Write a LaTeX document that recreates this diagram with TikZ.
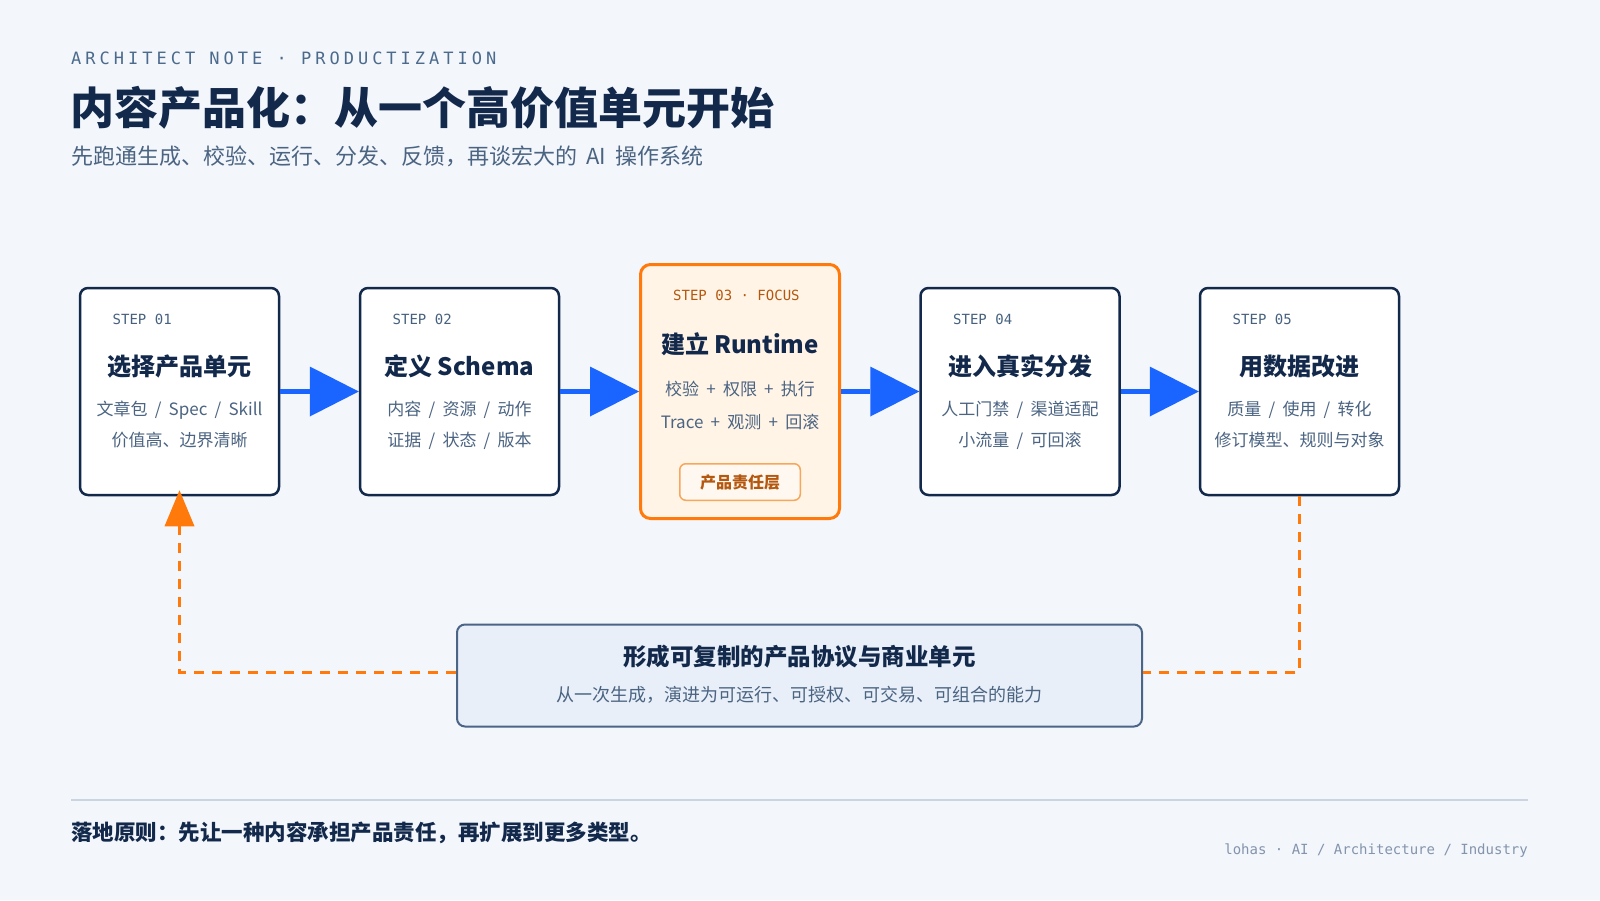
\documentclass[tikz,border=0pt]{standalone}
\usepackage{fontspec}
\setmainfont{Noto Sans CJK SC}[WordSpace=1.9]
\newfontfamily\titlef{Noto Sans CJK SC}[WordSpace=0.9]
\newfontfamily\monof{DejaVu Sans Mono}
\newfontfamily\monosp{DejaVu Sans Mono}[LetterSpace=23.5]
\usetikzlibrary{arrows.meta}
\definecolor{bg}{HTML}{F3F6FB}
\definecolor{navy}{HTML}{13294B}
\definecolor{steptxt}{HTML}{45617F}
\definecolor{bodytxt}{HTML}{4B6482}
\definecolor{headtxt}{HTML}{4B6A8C}
\definecolor{flowblue}{HTML}{1A64FF}
\definecolor{orng}{HTML}{FF7A0A}
\definecolor{focusfill}{HTML}{FFF4E6}
\definecolor{focustxt}{HTML}{B4570F}
\definecolor{badgeline}{HTML}{F8A65A}
\definecolor{botfill}{HTML}{E8EFF8}
\definecolor{botline}{HTML}{4A6585}
\definecolor{sepline}{HTML}{CBD5E1}
\definecolor{foottxt}{HTML}{8394AC}
\begin{document}
\begin{tikzpicture}[x=1pt,y=-1pt,
  stepbox/.style={draw=navy, line width=2.5pt, fill=white, rounded corners=8pt,
    minimum width=199pt, minimum height=207pt, inner sep=0pt},
  focusbox/.style={draw=orng, line width=3pt, fill=focusfill, rounded corners=10pt,
    minimum width=199pt, minimum height=254pt, inner sep=0pt},
  steplbl/.style={anchor=base west, inner sep=0pt, text=steptxt, font=\monof\fontsize{14}{16}\selectfont},
  boxtitle/.style={anchor=base, inner sep=0pt, text=navy, font=\titlef\bfseries\fontsize{24}{28}\selectfont},
  bodyline/.style={anchor=base, inner sep=0pt, text=bodytxt, font=\fontsize{17}{20}\selectfont},
  flow/.style={draw=flowblue, line width=5pt, -{Triangle[length=49pt,width=50pt,line width=0pt]}},
  loopline/.style={draw=orng, line width=3pt, dash pattern=on 10pt off 8pt}
]
\fill[bg] (0,0) rectangle (1600,900);
\useasboundingbox (0,0) rectangle (1600,900);

% header
\node[anchor=base west, inner sep=0pt, text=headtxt, font=\monosp\fontsize{17}{20}\selectfont] (hdr) at (71,64) {ARCHITECT NOTE · PRODUCTIZATION};
\node[anchor=base west, inner sep=0pt, text=navy, font=\bfseries\fontsize{44}{50}\selectfont] (ttl) at (70,124.7) {内容产品化：从一个高价值单元开始};
\node[anchor=base west, inner sep=0pt, text=bodytxt, font=\fontsize{22}{26}\selectfont] (sub) at (71,164) {先跑通生成、校验、运行、分发、反馈，再谈宏大的 AI 操作系统};

% boxes
\node[stepbox] (b1) at (179.5,391.5) {};
\node[stepbox] (b2) at (459.5,391.5) {};
\node[focusbox] (b3) at (740,391.5) {};
\node[stepbox] (b4) at (1020,391.5) {};
\node[stepbox] (b5) at (1299.5,391.5) {};

% box 1
\node[steplbl] (s1) at (112.5,324) {STEP 01};
\node[boxtitle] (t1) at (179.5,375) {选择产品单元};
\node[bodyline] (l1a) at (179.5,415.5) {文章包 / Spec / Skill};
\node[bodyline] (l1b) at (179.5,446.5) {价值高、边界清晰};
% box 2
\node[steplbl] (s2) at (392.5,324) {STEP 02};
\node[boxtitle] (t2) at (459.5,375) {定义 Schema};
\node[bodyline] (l2a) at (459.5,415.5) {内容 / 资源 / 动作};
\node[bodyline] (l2b) at (459.5,446.5) {证据 / 状态 / 版本};
% box 3
\node[steplbl, text=focustxt] (s3) at (673,300) {STEP 03 · FOCUS};
\node[boxtitle] (t3) at (740,353) {建立 Runtime};
\node[bodyline] (l3a) at (740,395) {校验 + 权限 + 执行};
\node[bodyline] (l3b) at (740,428) {Trace + 观测 + 回滚};
\node[draw=badgeline, line width=1.5pt, fill=focusfill!60!white, rounded corners=6pt,
  minimum width=120.5pt, minimum height=36.5pt, inner sep=0pt] (badge) at (740,482) {};
\node[anchor=base, inner sep=0pt, text=focustxt, font=\bfseries\fontsize{16}{19}\selectfont] (badgetxt) at (740,488) {产品责任层};
% box 4
\node[steplbl] (s4) at (953,324) {STEP 04};
\node[boxtitle] (t4) at (1020,375) {进入真实分发};
\node[bodyline] (l4a) at (1020,415.5) {人工门禁 / 渠道适配};
\node[bodyline] (l4b) at (1020,446.5) {小流量 / 可回滚};
% box 5
\node[steplbl] (s5) at (1232.5,324) {STEP 05};
\node[boxtitle] (t5) at (1299.5,375) {用数据改进};
\node[bodyline] (l5a) at (1299.5,415.5) {质量 / 使用 / 转化};
\node[bodyline] (l5b) at (1299.5,446.5) {修订模型、规则与对象};

% flow arrows
\draw[flow] (b1.east) -- (b2.west);
\draw[flow] (b2.east) -- (b3.west);
\draw[flow] (b3.east) -- (b4.west);
\draw[flow] (b4.east) -- (b5.west);

% bottom box
\node[draw=botline, line width=2pt, fill=botfill, rounded corners=8pt,
  minimum width=685pt, minimum height=102pt, inner sep=0pt] (bot) at (799.5,675.5) {};
\node[anchor=base, inner sep=0pt, text=navy, font=\bfseries\fontsize{23.5}{27}\selectfont] (bott) at (799.5,665) {形成可复制的产品协议与商业单元};
\node[anchor=base, inner sep=0pt, text=bodytxt, font=\fontsize{18}{21}\selectfont] (bots) at (799.5,701) {从一次生成，演进为可运行、可授权、可交易、可组合的能力};

% feedback loop
\draw[loopline] (b5.south) |- ([yshift=3.5pt]bot.east);
\draw[loopline, -{Triangle[length=36pt,width=30pt,line width=0pt]}, shorten >=-6pt] ([yshift=3.5pt]bot.west) -| (b1.south);

% footer
\coordinate (sepl) at (71,800);
\coordinate (sepr) at (1528,800);
\draw[sepline, line width=2pt] (sepl) -- (sepr);
\node[anchor=base west, inner sep=0pt, text=navy, font=\bfseries\fontsize{21.5}{25}\selectfont] (foot) at (71,840) {落地原则：先让一种内容承担产品责任，再扩展到更多类型。};
\node[anchor=base east, inner sep=0pt, text=foottxt, font=\monof\fontsize{14}{16}\selectfont] (credit) at (1528,854.5) {lohas · AI / Architecture / Industry};
\end{tikzpicture}
\end{document}
